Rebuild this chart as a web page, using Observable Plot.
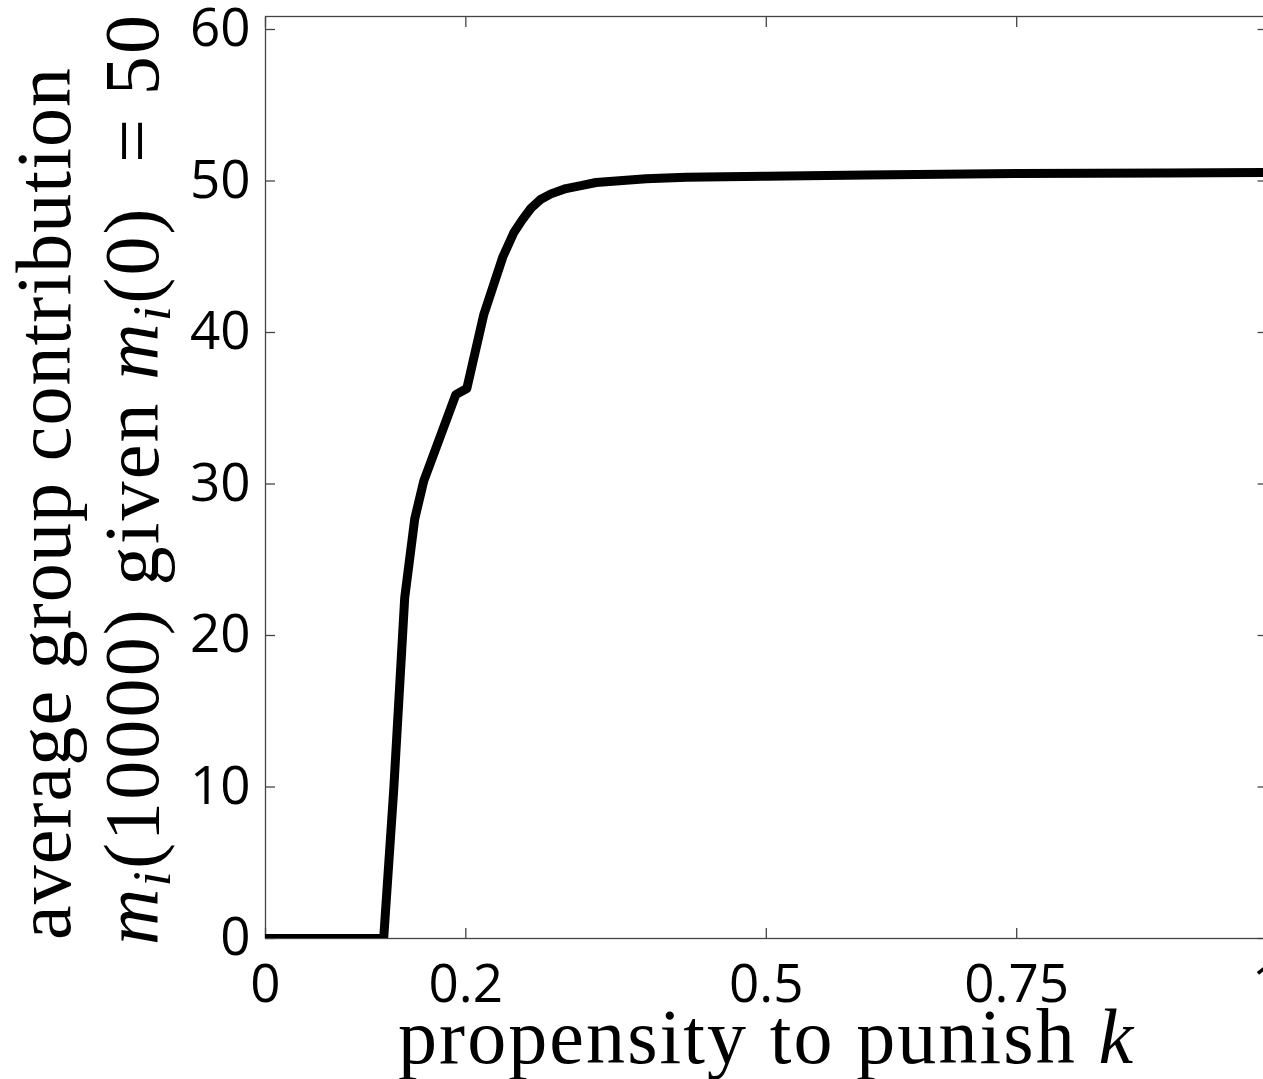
<!DOCTYPE html>
<html>
<head>
<meta charset="utf-8">
<script src="https://cdn.jsdelivr.net/npm/d3@7"></script>
<script src="https://cdn.jsdelivr.net/npm/@observablehq/plot@0.6"></script>
<style>
  html, body { margin: 0; padding: 0; background: #fff; }
  #chart svg { display: block; }
</style>
</head>
<body>
<div id="chart"></div>
<script>
// ---- data ----
const kValues = [0, 0.118, 0.128, 0.139, 0.149, 0.158, 0.19, 0.201, 0.218, 0.237, 0.248, 0.256, 0.265, 0.275, 0.285, 0.30, 0.315, 0.33, 0.35, 0.38, 0.42, 0.50, 0.60, 0.75, 0.90, 1.0];
const contribution = [0, 0, 9.8, 22.5, 27.7, 30.2, 35.9, 36.3, 41.2, 45.0, 46.6, 47.4, 48.2, 48.8, 49.15, 49.5, 49.7, 49.9, 50.0, 50.15, 50.25, 50.32, 50.4, 50.5, 50.53, 50.56];
const xTicks = [0, 0.2, 0.5, 0.75, 1];
const xTickLabels = ["0", "0.2", "0.5", "0.75", "1"];
const yTicks = [0, 10, 20, 30, 40, 50, 60];
const yTickLabels = ["0", "10", "20", "30", "40", "50", "60"];

const points = kValues.map((k, i) => ({k, c: contribution[i]}));
const xLab = new Map(xTicks.map((t, i) => [t, xTickLabels[i]]));
const yLab = new Map(yTicks.map((t, i) => [t, yTickLabels[i]]));

const W = 1263, H = 1079;
const axisColor = "#444";
const tickFont = "Open Sans";
const tickFontSize = 53;

const chart = Plot.plot({
  width: W,
  height: H,
  marginLeft: 265,
  marginRight: -3.6,
  marginTop: 16,
  marginBottom: 141,
  x: {domain: [0, 1]},
  y: {domain: [0, 60], range: [938, 29]},
  style: {background: "#fff", color: "#000", fontFamily: tickFont},
  marks: [
    Plot.frame({stroke: axisColor, strokeWidth: 1.3}),
    // inward ticks on all four sides
    Plot.axisX(xTicks, {anchor: "bottom", tickSize: -10, fill: "none", stroke: axisColor, strokeWidth: 1.3, label: null}),
    Plot.axisX(xTicks, {anchor: "top", tickSize: -10, fill: "none", stroke: axisColor, strokeWidth: 1.3, label: null}),
    Plot.axisY(yTicks, {anchor: "left", tickSize: -10, fill: "none", stroke: axisColor, strokeWidth: 1.3, label: null}),
    Plot.axisY(yTicks, {anchor: "right", tickSize: -10, fill: "none", stroke: axisColor, strokeWidth: 1.3, label: null}),
    // tick labels
    Plot.axisX(xTicks, {anchor: "bottom", tickSize: 0, tickPadding: 26, fontSize: tickFontSize, fill: "#000", label: null, tickFormat: d => xLab.get(d)}),
    Plot.axisY(yTicks, {anchor: "left", tickSize: 0, tickPadding: 15, fontSize: tickFontSize, fill: "#000", label: null, tickFormat: d => yLab.get(d)}),
    // the curve
    Plot.line(points, {x: "k", y: "c", stroke: "#000", strokeWidth: 9, strokeLinejoin: "round", clip: true})
  ]
});

document.getElementById("chart").appendChild(chart);

// ---- axis titles (serif, with italic math parts) ----
const svg = d3.select(chart);
const serif = "'Liberation Serif', 'Times New Roman', serif";
const titleSize = 78;
const subSize = 55;

// x-axis title
const xt = svg.append("text")
  .attr("x", 398).attr("y", 1063)
  .attr("text-anchor", "start")
  .attr("font-family", serif).attr("font-size", titleSize).attr("fill", "#000")
  .attr("textLength", 735).attr("lengthAdjust", "spacing")
  .style("white-space", "pre");
xt.append("tspan").text("propensity to punish ");
xt.append("tspan").attr("font-style", "italic").text("k");

// y-axis title, line 1
svg.append("text")
  .attr("transform", "translate(70,940) rotate(-90)")
  .attr("text-anchor", "start")
  .attr("font-family", serif).attr("font-size", titleSize).attr("fill", "#000")
  .attr("textLength", 872).attr("lengthAdjust", "spacing")
  .text("average group contribution");

// y-axis title, line 2
const yt2 = svg.append("text")
  .attr("transform", "translate(158,945) rotate(-90)")
  .attr("text-anchor", "start")
  .attr("font-family", serif).attr("font-size", titleSize).attr("fill", "#000")
  .attr("textLength", 930).attr("lengthAdjust", "spacing")
  .style("white-space", "pre");
yt2.append("tspan").attr("font-style", "italic").text("m");
yt2.append("tspan").attr("font-style", "italic").attr("font-size", subSize).attr("dy", 12).text("i");
yt2.append("tspan").attr("dy", -12).text("(10000) given ");
yt2.append("tspan").attr("font-style", "italic").text("m");
yt2.append("tspan").attr("font-style", "italic").attr("font-size", subSize).attr("dy", 12).text("i");
yt2.append("tspan").attr("dy", -12).text("(0)  = 50");
</script>
</body>
</html>
